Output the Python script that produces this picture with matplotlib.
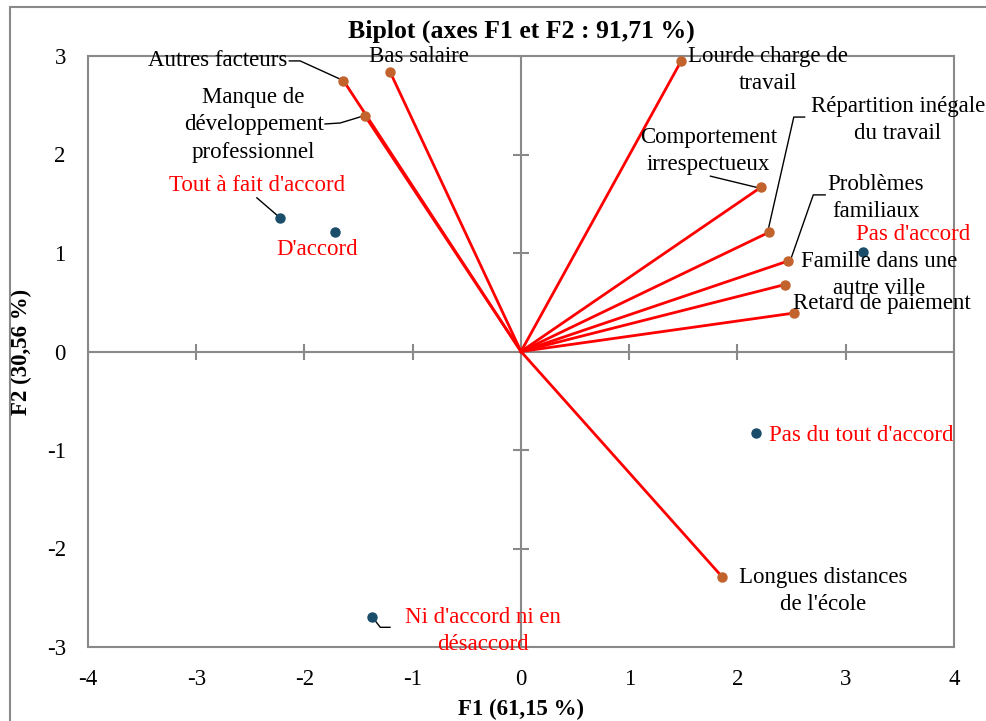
import matplotlib
matplotlib.use("Agg")
import matplotlib.pyplot as plt
from matplotlib.patches import Rectangle

plt.rcParams["font.family"] = ["Liberation Serif", "DejaVu Serif"]
plt.rcParams["axes.unicode_minus"] = False

# variables (loadings on F1/F2)
var_names = ["Autres facteurs", "Bas salaire", "Manque de\ndéveloppement\nprofessionnel",
             "Lourde charge de\ntravail", "Comportement\nirrespectueux",
             "Répartition inégale\ndu travail", "Problèmes\nfamiliaux",
             "Famille dans une\nautre ville", "Retard de paiement",
             "Longues distances\nde l'école"]
var_f1 = [-1.64, -1.21, -1.44, 1.48, 2.22, 2.29, 2.47, 2.44, 2.52, 1.86]
var_f2 = [2.75, 2.84, 2.39, 2.95, 1.67, 1.21, 0.92, 0.68, 0.39, -2.29]

# observations (answer categories)
obs_names = ["Tout à fait d'accord", "D'accord", "Pas d'accord",
             "Pas du tout d'accord", "Ni d'accord ni en\ndésaccord"]
obs_f1 = [-2.23, -1.72, 3.16, 2.17, -1.38]
obs_f2 = [1.36, 1.21, 1.01, -0.83, -2.70]

ticks_x = [-4, -3, -2, -1, 0, 1, 2, 3, 4]
ticks_y = [-3, -2, -1, 0, 1, 2, 3]

GRAY = "#898989"
RED = "#ff0000"
ORANGE = "#c2622c"
BLUE = "#1a4d6a"
FS = 16.5
LS = 1.38

fig = plt.figure(figsize=(9.87, 7.21), dpi=100)
fig.patches.append(Rectangle((10 / 987, -0.05), 1.1, 1 - 7 / 721 + 0.05,
                             transform=fig.transFigure, fill=False,
                             edgecolor=GRAY, lw=1.5))
ax = fig.add_axes([88 / 987, 74 / 721, 866 / 987, 591 / 721])
ax.set_xlim(-4, 4)
ax.set_ylim(-3, 3)
for s in ax.spines.values():
    s.set_color(GRAY)
    s.set_linewidth(1.5)

ax.axhline(0, color=GRAY, lw=1.5, zorder=1)
ax.axvline(0, color=GRAY, lw=1.5, zorder=1)
ax.plot(ticks_x, [0] * len(ticks_x), ls="none", marker="|", ms=11, mew=1.5, color=GRAY, zorder=1)
ax.plot([0] * len(ticks_y), ticks_y, ls="none", marker="_", ms=11, mew=1.5, color=GRAY, zorder=1)

ax.set_xticks(ticks_x)
ax.set_yticks(ticks_y)
ax.tick_params(length=0, labelsize=FS)
ax.tick_params(axis="x", pad=16)
ax.tick_params(axis="y", pad=16)

for x, y in zip(var_f1, var_f2):
    ax.plot([0, x], [0, y], color=RED, lw=2, zorder=2)
ax.plot(var_f1, var_f2, ls="none", marker="o", ms=6.5, color=ORANGE, zorder=3)
ax.plot(obs_f1, obs_f2, ls="none", marker="o", ms=6.5, color=BLUE, zorder=3)

# label positions (x, y, ha)
var_lab = [(-2.16, 2.95, "right"), (-0.94, 3.0, "center"), (-2.47, 2.30, "center"),
           (2.28, 2.86, "center"), (1.73, 2.04, "center"), (3.48, 2.35, "center"),
           (3.28, 1.56, "center"), (3.31, 0.78, "center"), (3.33, 0.49, "center"),
           (2.79, -2.43, "center")]
for name, (tx, ty, ha) in zip(var_names, var_lab):
    ax.text(tx, ty, name, ha=ha, va="center", fontsize=FS, linespacing=LS, zorder=4)

obs_lab = [(-2.44, 1.69, "center"), (-1.88, 1.04, "center"), (3.62, 1.19, "center"),
           (2.29, -0.85, "left"), (-0.35, -2.84, "center")]
for name, (tx, ty, ha) in zip(obs_names, obs_lab):
    ax.text(tx, ty, name, ha=ha, va="center", fontsize=FS, color=RED, linespacing=LS, zorder=4)

# leader lines
leaders = [([-2.14, -2.04, -1.66], [2.95, 2.95, 2.76]),
           ([-1.81, -1.67, -1.46], [2.31, 2.32, 2.39]),
           ([-2.44, -2.25], [1.56, 1.38]),
           ([1.75, 2.20], [1.78, 1.66]),
           ([2.62, 2.52, 2.28], [2.38, 2.38, 1.22]),
           ([2.81, 2.70, 2.49], [1.59, 1.59, 0.93]),
           ([-1.37, -1.30, -1.21], [-2.70, -2.80, -2.80])]
for lx, ly in leaders:
    ax.plot(lx, ly, color="black", lw=1, zorder=2)

ax.set_title("Biplot (axes F1 et F2 : 91,71 %)", fontsize=18.5, fontweight="bold", pad=13)
ax.set_xlabel("F1 (61,15 %)", fontsize=FS, fontweight="bold")
ax.xaxis.set_label_coords(0.5, -0.088)
ax.set_ylabel("F2 (30,56 %)", fontsize=FS, fontweight="bold")
ax.yaxis.set_label_coords(-0.065, 0.5)

fig.savefig("out.png", dpi=100)
